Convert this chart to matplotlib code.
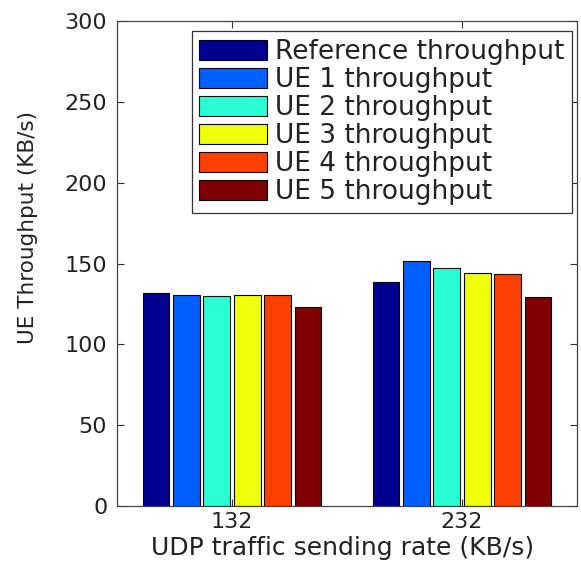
import numpy as np
import matplotlib
matplotlib.use("Agg")
import matplotlib.pyplot as plt

# data
rates = ["132", "232"]
series = ["Reference throughput", "UE 1 throughput", "UE 2 throughput",
          "UE 3 throughput", "UE 4 throughput", "UE 5 throughput"]
ref_tp = [132.0, 138.8]
ue1_tp = [130.6, 151.8]
ue2_tp = [129.6, 147.0]
ue3_tp = [130.4, 144.0]
ue4_tp = [130.4, 143.4]
ue5_tp = [123.4, 129.0]
values = [ref_tp, ue1_tp, ue2_tp, ue3_tp, ue4_tp, ue5_tp]
colors = ["#000090", "#0060ff", "#2affd5", "#f0ff0a", "#ff4000", "#800000"]

plt.rcParams["font.family"] = ["DejaVu Sans"]
fig = plt.figure(figsize=(5.81, 5.65), dpi=100)
ax = fig.add_axes([117/581, 1-506/565, 460/581, 485/565])

x = np.arange(len(rates))
pitch, w = 0.132, 0.116
for i, (vals, lab, col) in enumerate(zip(values, series, colors)):
    ax.bar(x + (i - 2.5)*pitch, vals, width=w, color=col, edgecolor="black",
           linewidth=0.8, label=lab)

ax.set_xlim(-0.5, 1.5)
ax.set_ylim(0, 300)
ax.set_xticks(x)
ax.set_xticklabels(rates)
ax.set_yticks(np.arange(0, 301, 50))
ax.tick_params(direction="in", top=True, right=True, length=5, width=0.8, colors="#333333")
ax.tick_params(axis="x", labelsize=16, pad=4, labelcolor="#222222")
ax.tick_params(axis="y", labelsize=16, pad=7, labelcolor="#222222")
for s in ax.spines.values():
    s.set_color("#444444"); s.set_linewidth(0.9)

fig.text(343/581, 1-548/565, "UDP traffic sending rate (KB/s)", fontsize=18,
         ha="center", va="center", color="#222222")
fig.text(28/581, 1-228/565, "UE Throughput (KB/s)", fontsize=15.5, rotation=90,
         ha="center", va="center", color="#222222")

leg = ax.legend(loc="upper right", bbox_to_anchor=(572/581, 1-31/565),
                bbox_transform=fig.transFigure, borderaxespad=0, fontsize=19,
                handlelength=2.55, handleheight=0.8, handletextpad=0.3,
                labelspacing=0.08, borderpad=0.3, fancybox=False, framealpha=1)
leg.get_frame().set_edgecolor("#333333")
leg.get_frame().set_linewidth(0.9)
for t in leg.get_texts():
    t.set_color("#222222")

fig.savefig("out.png", dpi=100, facecolor="white")
